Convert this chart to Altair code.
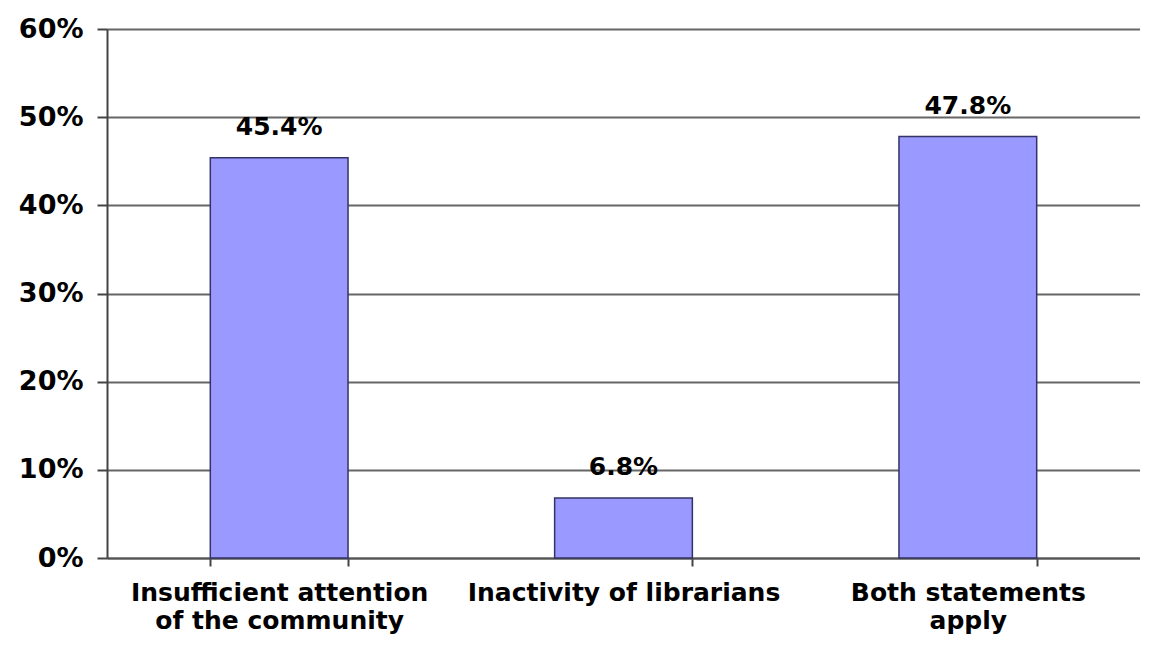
import altair as alt
import pandas as pd

categories = ["Insufficient attention\nof the community", "Inactivity of librarians", "Both statements\napply"]
values = [0.454, 0.068, 0.478]
labels = ["45.4%", "6.8%", "47.8%"]

df = pd.DataFrame({"category": categories, "value": values, "label": labels})

x = alt.X("category:N", sort=categories, title=None,
          scale=alt.Scale(paddingInner=0.6, paddingOuter=0.3),
          axis=alt.Axis(labelAngle=0, labelExpr="split(datum.label, '\\n')",
                        labelFont="DejaVu Sans", labelFontSize=25, labelFontWeight="bold",
                        labelColor="#000000",
                        labelLineHeight=28, labelPadding=14, labelBaseline="top",
                        labelLimit=0, labelOverlap=False,
                        tickBand="extent", tickSize=8, tickColor="#444444", tickWidth=2,
                        domainColor="#555555", domainWidth=2, grid=False))
y = alt.Y("value:Q", title=None,
          scale=alt.Scale(domain=[0, 0.6], nice=False),
          axis=alt.Axis(format=".0%", values=[0, 0.1, 0.2, 0.3, 0.4, 0.5, 0.6],
                        labelFont="DejaVu Sans", labelFontSize=27, labelFontWeight="bold",
                        labelColor="#000000", labelPadding=14, tickSize=10,
                        tickColor="#444444", tickWidth=2, domainColor="#444444",
                        domainWidth=2, gridColor="#666666", gridWidth=2, gridOpacity=1))

bars = alt.Chart(df).mark_bar(color="#9999FF", stroke="#333366", strokeWidth=1.5).encode(x=x, y=y)
text = alt.Chart(df).mark_text(font="DejaVu Sans", fontSize=25, fontWeight="bold",
                               color="#000000", baseline="bottom", dy=-18).encode(
    x=alt.X("category:N", sort=categories), y="value:Q", text="label:N")

chart = (bars + text).properties(
    width=1033, height=529,
    autosize=alt.AutoSizeParams(type="none"),
    padding={"left": 99, "top": 21, "right": 0, "bottom": 79},
).configure_view(stroke=None).configure(background="#ffffff")

chart.save("out.html", embed_options={"renderer": "svg", "actions": False})
